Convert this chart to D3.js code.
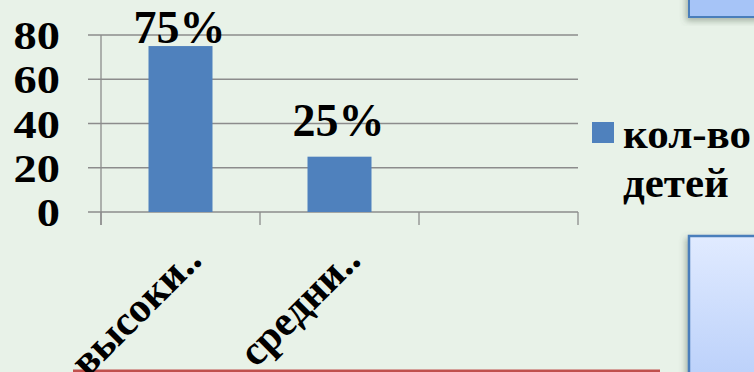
<!DOCTYPE html>
<html><head><meta charset="utf-8">
<script src="https://cdn.jsdelivr.net/npm/d3@7"></script>
<style>
html,body{margin:0;padding:0;background:#E8F2E8;overflow:hidden}
svg{display:block}
text{font-family:"Liberation Serif","Times New Roman",serif;font-weight:700;fill:#000}
</style></head>
<body>
<script>
const categories = ["высоки..", "средни..", ""];
const values = [75, 25, null];
const valueLabels = ["75%", "25%", ""];
const yTicks = [0, 20, 40, 60, 80];
const seriesName = ["кол-во", "детей"];

(function(){
const W = 754, H = 372;
const svg = d3.select("body").append("svg").attr("width", W).attr("height", H);

const defs = svg.append("defs");
const grad = defs.append("linearGradient").attr("id","boxg").attr("x1",0).attr("y1",0).attr("x2",0).attr("y2",1);
grad.append("stop").attr("offset","0%").attr("stop-color","#E1EBFF");
grad.append("stop").attr("offset","100%").attr("stop-color","#B9CFFA");
const sh = defs.append("filter").attr("id","sh").attr("x","-20%").attr("y","-20%").attr("width","150%").attr("height","150%");
sh.append("feDropShadow").attr("dx",-2).attr("dy",3).attr("stdDeviation",3).attr("flood-color","#556655").attr("flood-opacity",0.45);

svg.append("rect").attr("width",W).attr("height",H).attr("fill","#E8F2E8");

// decorative boxes
svg.append("rect").attr("x",689).attr("y",-10).attr("width",80).attr("height",27)
  .attr("fill","#A6C4F7").attr("stroke","#4A7EBB").attr("stroke-width",2).attr("filter","url(#sh)");
svg.append("rect").attr("x",689).attr("y",236).attr("width",80).attr("height",150)
  .attr("fill","url(#boxg)").attr("stroke","#4A7EBB").attr("stroke-width",2.5).attr("filter","url(#sh)");
// red line
svg.append("rect").attr("x",73).attr("y",369.5).attr("width",587).attr("height",4).attr("fill","#C0504D");

const pL = 101, pR = 578, pT = 35, pB = 212;
const x = d3.scaleBand().domain(d3.range(categories.length)).range([pL, pR]).paddingInner(0).paddingOuter(0);
const y = d3.scaleLinear().domain([0, 80]).range([pB, pT]);

// gridlines
svg.append("g").selectAll("line").data(yTicks).join("line")
  .attr("x1", pL - 13).attr("x2", pR).attr("y1", d => y(d)).attr("y2", d => y(d))
  .attr("stroke", "#8C8C8C").attr("stroke-width", 1.3);
// y axis
svg.append("line").attr("x1",pL).attr("x2",pL).attr("y1",pT).attr("y2",pB+13)
  .attr("stroke","#8C8C8C").attr("stroke-width",1.3);
// x ticks
svg.append("g").selectAll("line").data(d3.range(categories.length + 1)).join("line")
  .attr("x1", i => pL + i * x.bandwidth()).attr("x2", i => pL + i * x.bandwidth())
  .attr("y1", pB).attr("y2", pB + 13)
  .attr("stroke", "#8C8C8C").attr("stroke-width", 1.3);

// y tick labels (slightly widened, as in the original)
svg.append("g").selectAll("text").data(yTicks).join("text")
  .attr("transform", d => `translate(60,${y(d)}) scale(1.16,1)`)
  .attr("dy", "0.35em")
  .attr("text-anchor", "end").attr("font-size", 40).text(d => d);

// bars
const bw = 64;
const pts = values.map((v,i)=>({v,i})).filter(d=>d.v!=null);
svg.append("g").selectAll("rect").data(pts).join("rect")
  .attr("x", d => x(d.i) + x.bandwidth()/2 - bw/2).attr("width", bw)
  .attr("y", d => y(d.v)).attr("height", d => y(0) - y(d.v))
  .attr("fill", "#4F81BD");

// value labels (kept inside the chart top edge)
svg.append("g").selectAll("text").data(pts).join("text")
  .attr("x", d => x(d.i) + x.bandwidth()/2 - 1).attr("y", d => Math.max(y(d.v) - 21, 43))
  .attr("text-anchor", "middle").attr("font-size", 46).text(d => valueLabels[d.i]);

// x labels
svg.append("g").selectAll("text").data(categories.map((c,i)=>({c,i}))).join("text")
  .attr("transform", d => `translate(${x(d.i) + x.bandwidth()/2 + 23},${pB + 50}) rotate(-45)`)
  .attr("text-anchor", "end").attr("font-size", 42).text(d => d.c);

// legend
svg.append("rect").attr("x",592).attr("y",122).attr("width",22).attr("height",21).attr("fill","#4F81BD");
svg.append("g").selectAll("text").data(seriesName).join("text")
  .attr("x", 623).attr("y", (d,i) => 148 + i*49).attr("font-size", 43).text(d => d);
})();
</script>
</body></html>
